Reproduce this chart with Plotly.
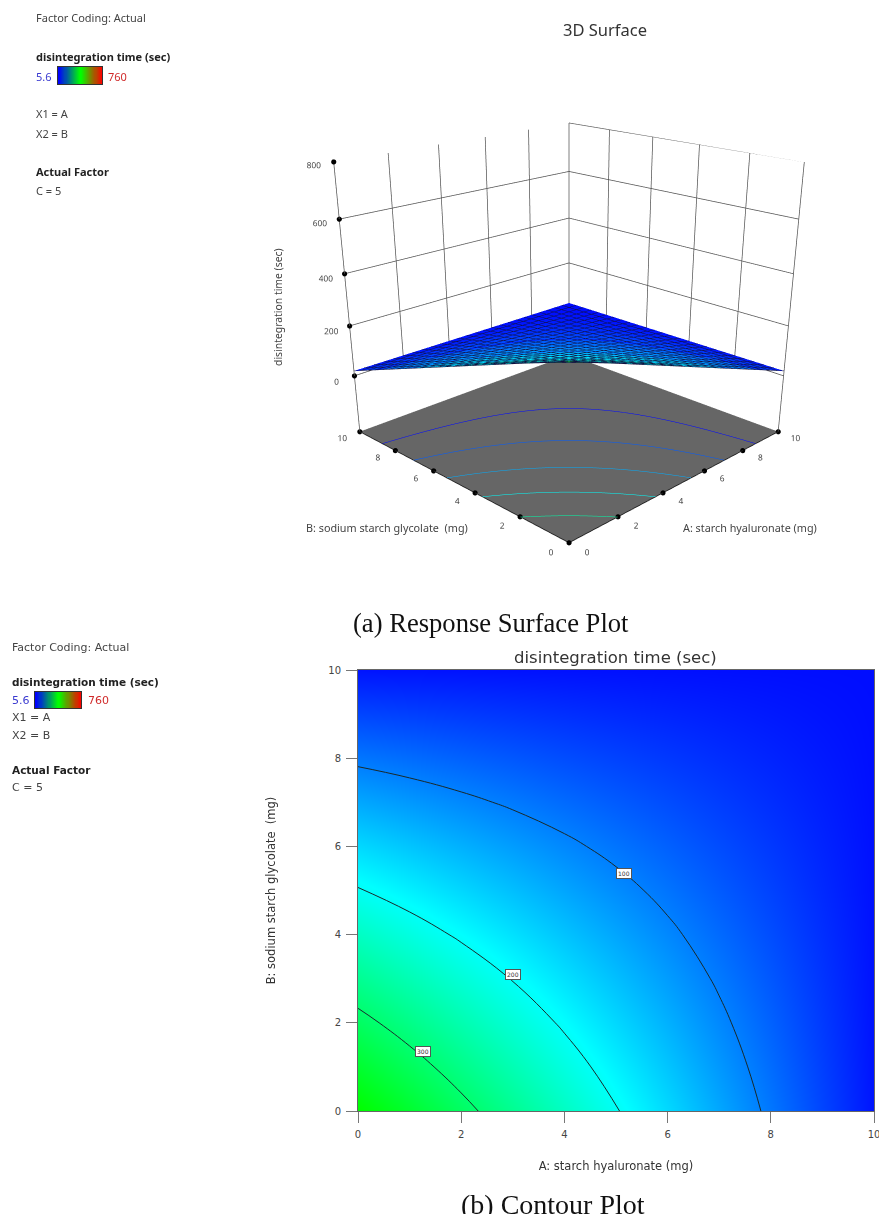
import plotly.graph_objects as go

W, H = 879, 1214
factor_ticks = [0, 2, 4, 6, 8, 10]
grid_axis = [0, 1, 2, 3, 4, 5, 6, 7, 8, 9, 10]
time_ticks = [0, 200, 400, 600, 800]
floor_level = -235
top_level = 800
time_min, time_max = 5.6, 760
# disintegration time (sec): rows are B, columns are A
row_b0 = [385, 348.5, 312, 275.5, 239, 202.5, 166, 129.5, 93, 56.5, 20]
row_b1 = [348.5, 315.6, 282.7, 249.8, 216.9, 184, 151.1, 118.2, 85.3, 52.4, 19.5]
row_b2 = [312, 282.7, 253.4, 224.1, 194.8, 165.5, 136.2, 106.9, 77.6, 48.3, 19]
row_b3 = [275.5, 249.8, 224.1, 198.4, 172.7, 147, 121.3, 95.6, 69.9, 44.2, 18.5]
row_b4 = [239, 216.9, 194.8, 172.7, 150.6, 128.5, 106.4, 84.3, 62.2, 40.1, 18]
row_b5 = [202.5, 184, 165.5, 147, 128.5, 110, 91.5, 73, 54.5, 36, 17.5]
row_b6 = [166, 151.1, 136.2, 121.3, 106.4, 91.5, 76.6, 61.7, 46.8, 31.9, 17]
row_b7 = [129.5, 118.2, 106.9, 95.6, 84.3, 73, 61.7, 50.4, 39.1, 27.8, 16.5]
row_b8 = [93, 85.3, 77.6, 69.9, 62.2, 54.5, 46.8, 39.1, 31.4, 23.7, 16]
row_b9 = [56.5, 52.4, 48.3, 44.2, 40.1, 36, 31.9, 27.8, 23.7, 19.6, 15.5]
row_b10 = [20, 19.5, 19, 18.5, 18, 17.5, 17, 16.5, 16, 15.5, 15]
time_grid = [row_b0, row_b1, row_b2, row_b3, row_b4, row_b5, row_b6, row_b7, row_b8, row_b9, row_b10]
contour_label_a = [5.15, 3.0, 1.25]
contour_label_b = [5.38, 3.1, 1.35]
contour_label_text = ["100", "200", "300"]

scale = [[0, "#0000ff"], [0.25, "#00ffff"], [0.5, "#00ff00"], [0.75, "#ffff00"], [1, "#ff0000"]]
legend_scale = [[0, "#0000ff"], [0.5, "#00ff00"], [1, "#ff0000"]]
legend_values = [[i / 40 for i in range(41)]]

def px(x):
    return x / W
def py(y):
    return 1 - y / H

fig = go.Figure()

# --- 3D surface
fig.add_trace(go.Surface(
    x=grid_axis, y=grid_axis, z=time_grid, colorscale=scale, cmin=time_min, cmax=time_max,
    showscale=False, hoverinfo="skip",
    lighting=dict(ambient=1, diffuse=0, specular=0, fresnel=0),
    contours=dict(
        x=dict(show=True, start=0, end=10, size=0.4, color="#101040", width=1),
        y=dict(show=True, start=0, end=10, size=0.4, color="#101040", width=1),
        z=dict(show=True, start=67, end=320, size=61.5, usecolormap=True, width=4, project=dict(z=True)),
    ),
))

# wall grid lines
gx, gy, gz = [], [], []
for t in factor_ticks:
    gx += [t, t, None, 10, 10, None]
    gy += [10, 10, None, t, t, None]
    gz += [0, top_level, None, 0, top_level, None]
for v in time_ticks:
    gx += [0, 10, 10, None]
    gy += [10, 10, 0, None]
    gz += [v, v, v, None]
for (cx, cy) in [(0, 10), (10, 0), (10, 10)]:
    gx += [cx, cx, None]
    gy += [cy, cy, None]
    gz += [floor_level, 0, None]
fig.add_trace(go.Scatter3d(x=gx, y=gy, z=gz, mode="lines", line=dict(color="#555555", width=1.5),
                           hoverinfo="skip", showlegend=False))
# tick dots
dx = factor_ticks + [0] * len(factor_ticks) + [0] * len(time_ticks)
dy = [0] * len(factor_ticks) + factor_ticks + [10] * len(time_ticks)
dz = [floor_level] * (2 * len(factor_ticks)) + time_ticks
fig.add_trace(go.Scatter3d(x=dx, y=dy, z=dz, mode="markers", marker=dict(color="black", size=3),
                           hoverinfo="skip", showlegend=False))

axis3d = dict(showgrid=False, zeroline=False, showspikes=False, showbackground=False, title="",
              showline=True, linecolor="#222222", linewidth=2, ticks="", tickangle=0,
              tickfont=dict(family="Noto Sans", size=10, color="#444444"))
fig.update_layout(scene=dict(
    domain=dict(x=[px(259), 1.0], y=[py(858), 1.0]),
    xaxis=dict(axis3d, range=[0, 10], tickvals=factor_ticks),
    yaxis=dict(axis3d, range=[0, 10], tickvals=factor_ticks),
    zaxis=dict(showgrid=False, zeroline=False, showspikes=False, title="", showline=False, ticks="", tickangle=0,
               range=[floor_level, top_level], tickvals=time_ticks,
               tickfont=dict(family="Noto Sans", size=10, color="#444444"),
               showbackground=True, backgroundcolor="#666666"),
    aspectmode="manual", aspectratio=dict(x=1, y=1, z=0.90),
    camera=dict(eye=dict(x=-2.23, y=-2.23, z=1.07), center=dict(x=0, y=0, z=-0.44), up=dict(x=0, y=0, z=1)),
))

# --- contour plot
fig.add_trace(go.Contour(
    x=grid_axis, y=grid_axis, z=time_grid, colorscale=scale, zmin=time_min, zmax=time_max,
    showscale=False, hoverinfo="skip",
    contours=dict(coloring="heatmap", start=100, end=300, size=100, showlabels=False),
    line=dict(color="#1a2a2a", width=1, smoothing=1.3),
    xaxis="x", yaxis="y",
))
axis2d = dict(showline=True, linecolor="#666666", linewidth=1, ticks="outside", ticklen=11, tickcolor="#777777",
              showgrid=False, zeroline=False, tickvals=factor_ticks, mirror=True, ticklabelstandoff=3,
              ticklabeloverflow="allow",
              tickfont=dict(family="DejaVu Sans", size=10, color="#444444"))
fig.update_layout(
    xaxis=dict(axis2d, domain=[px(358), px(874)], range=[0, 10],
               title=dict(text="A: starch hyaluronate (mg)", font=dict(family="DejaVu Sans", size=11.5, color="#333333"), standoff=22)),
    yaxis=dict(axis2d, domain=[py(1111), py(670)], range=[0, 10],
               title=dict(text="B: sodium starch glycolate  (mg)", font=dict(family="DejaVu Sans", size=11.5, color="#333333"), standoff=50)),
)

# --- gradient bars in the two side panels
def legend_bar(idx, x0, x1, y0, y1):
    fig.add_trace(go.Heatmap(z=legend_values, colorscale=legend_scale, showscale=False, hoverinfo="skip",
                             zsmooth="best", xaxis=f"x{idx}", yaxis=f"y{idx}"))
    ax = dict(showticklabels=False, ticks="", showgrid=False, zeroline=False, showline=True, mirror=True,
              linecolor="#333333", linewidth=1, fixedrange=True)
    fig.update_layout({f"xaxis{idx}": dict(ax, domain=[px(x0), px(x1)], anchor=f"y{idx}"),
                       f"yaxis{idx}": dict(ax, domain=[py(y1), py(y0)], anchor=f"x{idx}")})

legend_bar(2, 58, 102, 67, 84)
legend_bar(3, 35, 81, 692, 708)

def note(x, y, text, size=11, color="#444444", family="Noto Sans", bold=False, anchor="left", angle=0):
    fig.add_annotation(xref="paper", yref="paper", x=px(x), y=py(y), text=f"<b>{text}</b>" if bold else text,
                       showarrow=False, xanchor=anchor, yanchor="middle", textangle=angle,
                       font=dict(size=size, color=color, family=family))

# top panel text
note(34, 18, "Factor Coding: Actual")
note(34, 57, "disintegration time (sec)", bold=True, color="#222222")
note(34, 76, "5.6", color="#3a3ad0")
note(106, 76, "760", color="#d02a2a")
note(34, 114, "X1 = A")
note(34, 133, "X2 = B")
note(34, 171, "Actual Factor", bold=True, color="#222222")
note(34, 190, "C = 5")
note(605, 29, "3D Surface", size=16.5, color="#333333", anchor="center")
note(387, 527, "B: sodium starch glycolate  (mg)", size=10.8, anchor="center")
note(750, 527, "A: starch hyaluronate (mg)", size=10.8, anchor="center")
note(278, 307, "disintegration time (sec)", size=10.4, anchor="center", angle=-90)
note(491, 623, "(a) Response Surface Plot", size=26.6, color="#111111", family="Liberation Serif", anchor="center")

# lower panel text
L = "DejaVu Sans"
note(10, 647, "Factor Coding: Actual", size=11, family=L)
note(10, 682, "disintegration time (sec)", size=10.5, bold=True, color="#222222", family=L)
note(10, 700, "5.6", size=11, color="#3a3ad0", family=L)
note(86, 700, "760", size=11, color="#d02a2a", family=L)
note(10, 717, "X1 = A", size=11, family=L)
note(10, 735, "X2 = B", size=11, family=L)
note(10, 770, "Actual Factor", size=10.5, bold=True, color="#222222", family=L)
note(10, 787, "C = 5", size=11, family=L)
note(615, 657, "disintegration time (sec)", size=16.5, color="#333333", family=L, anchor="center")
note(553, 1204, "(b) Contour Plot", size=28, color="#111111", family="Liberation Serif", anchor="center")

for a, b, t in zip(contour_label_a, contour_label_b, contour_label_text):
    fig.add_annotation(x=a, y=b, xref="x", yref="y", text=t, showarrow=False,
                       font=dict(size=6, color="#333333", family=L),
                       bgcolor="white", bordercolor="#555555", borderwidth=1, borderpad=1)

fig.update_layout(width=W, height=H, autosize=False, margin=dict(l=0, r=0, t=0, b=0, autoexpand=False),
                  paper_bgcolor="white", plot_bgcolor="white", showlegend=False)
fig.write_html("out.html", config={"displayModeBar": False},
               post_script="document.body.style.margin='0';document.documentElement.style.overflow='hidden';")
